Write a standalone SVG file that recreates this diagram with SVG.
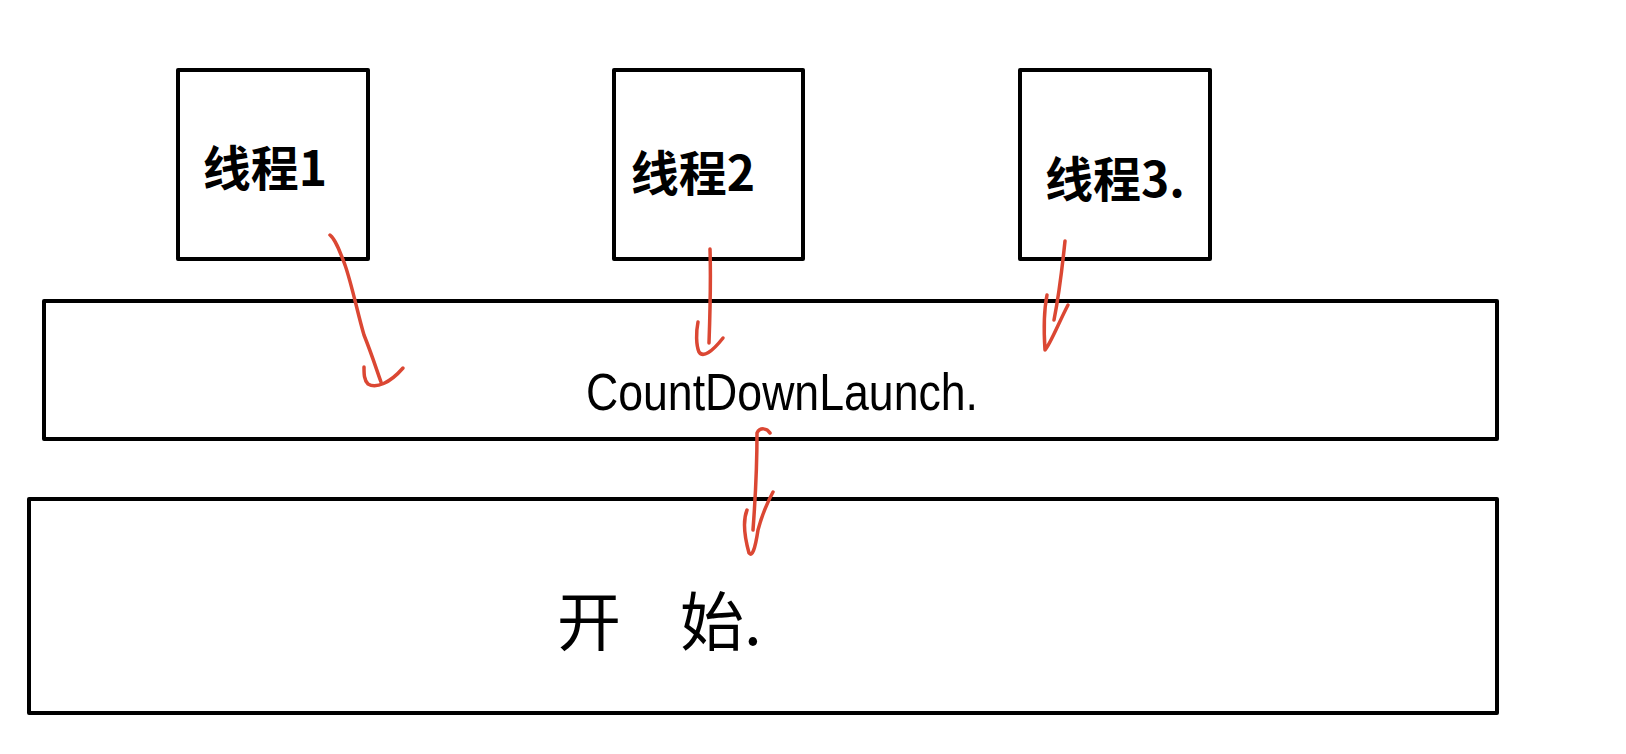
<svg xmlns="http://www.w3.org/2000/svg" width="1626" height="754" viewBox="0 0 1626 754">
<style>
.box{fill:none;stroke:#000;stroke-width:4;stroke-linejoin:round}
.lbl{font-family:"Liberation Sans","Noto Sans CJK SC",sans-serif;fill:#000}
.cn{font-family:"Noto Sans CJK SC","Liberation Sans",sans-serif;font-weight:bold;font-size:48px;text-anchor:middle;fill:#000}
.arr{fill:none;stroke:#db4733;stroke-width:3.5;stroke-linecap:round;stroke-linejoin:round}
</style>
<rect width="1626" height="754" fill="#fff"/>
<g id="thread1">
<rect class="box" x="178" y="70" width="190" height="189"/>
<text class="cn" x="265" y="186">线程1</text>
</g>
<g id="thread2">
<rect class="box" x="614" y="70" width="189" height="189"/>
<text class="cn" x="693" y="191">线程2</text>
</g>
<g id="thread3">
<rect class="box" x="1020" y="70" width="190" height="189"/>
<text class="cn" x="1115" y="197">线程3.</text>
</g>
<g id="countdown">
<rect class="box" x="44" y="301" width="1453" height="138"/>
<text class="lbl" x="586" y="410" font-size="52" textLength="392" lengthAdjust="spacingAndGlyphs">CountDownLaunch.</text>
</g>
<g id="start">
<rect class="box" x="29" y="499" width="1468" height="214"/>
<text class="cn" font-size="64" style="font-size:64px;text-anchor:start;font-weight:normal" y="645"><tspan x="557">开 </tspan><tspan x="680">始.</tspan></text>
</g>
<g id="connectors">
<path class="arr" d="M330,235 C336,240 340,252 345,265 C352,285 358,315 364,335 C372,355 376,368 381,382"/>
<path class="arr" d="M364,367 C364,374 364,380 368,384 C376,389 390,383 403,368"/>
<path class="arr" d="M710,249 C711,280 710,315 709,343"/>
<path class="arr" d="M698,322 C696,332 696,345 699,352 C703,358 712,352 723,338"/>
<path class="arr" d="M1065,241 C1062,270 1058,300 1054,320"/>
<path class="arr" d="M1047,295 C1044,310 1044,335 1045,350 C1050,345 1060,320 1068,305"/>
<path class="arr" d="M770,433 C767,428 760,427 757,433 C757,450 756,490 753,530"/>
<path class="arr" d="M747,510 C743,520 744,535 749,553 C752,557 755,550 758,530 C762,515 767,503 773,492"/>
</g>
</svg>
